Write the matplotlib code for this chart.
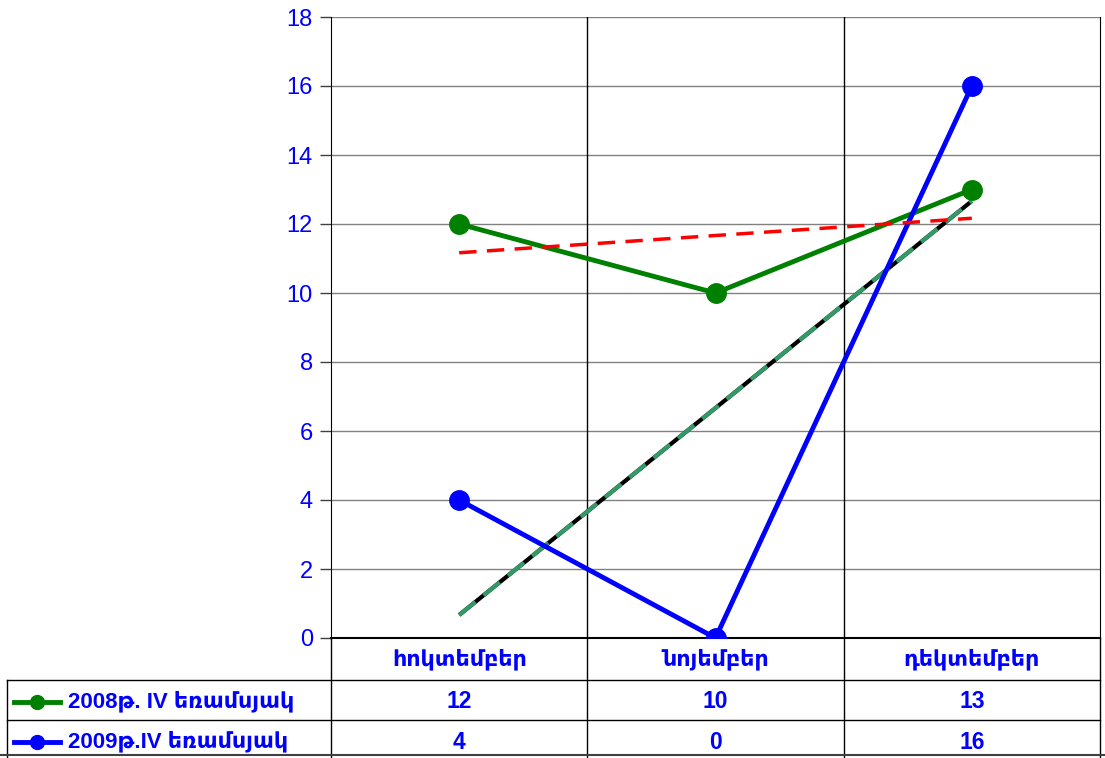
import numpy as np
import matplotlib.pyplot as plt
import matplotlib.transforms as mtransforms

plt.rcParams['font.family'] = ['Liberation Sans', 'DejaVu Sans']

months = ['հոկտեմբեր', 'նոյեմբեր', 'դեկտեմբեր']
series_names = ['2008թ. IV եռամսյակ', '2009թ.IV եռամսյակ']
vals_2008 = [12, 10, 13]
vals_2009 = [4, 0, 16]
y_ticks = list(range(0, 19, 2))

BLUE = '#0000FF'
GREEN = '#008000'

fig = plt.figure(figsize=(11.05, 7.58), dpi=100)
ax = fig.add_axes([331 / 1105, 1 - 638 / 758, 769 / 1105, 621 / 758])

x = np.arange(1, len(months) + 1)

# trend lines (linear fit of each series)
k1, b1 = np.polyfit(x, vals_2008, 1)
k2, b2 = np.polyfit(x, vals_2009, 1)
ax.plot(x, k2 * x + b2, color='black', lw=3, solid_capstyle='butt', zorder=3)
ax.plot(x, k2 * x + b2, color='#339966', lw=3, ls=(0, (5, 2.5)), zorder=3)

ax.plot(x, vals_2008, color=GREEN, lw=3.5, marker='o', ms=14, zorder=4)
ax.plot(x, vals_2009, color=BLUE, lw=3.5, marker='o', ms=14, zorder=4)
ax.plot(x, k1 * x + b1, color='#FF0000', lw=2.5, ls=(0, (5, 3)), zorder=5)

ax.set_xlim(0.5, len(months) + 0.5)
ax.set_ylim(0, 18)
ax.set_yticks(y_ticks)
ax.tick_params(axis='y', colors='#404040', labelcolor=BLUE, labelsize=17,
               length=8, width=1, direction='out', pad=5)
ax.set_xticks([])
ax.grid(False)
for y in y_ticks[1:]:
    ax.axhline(y, color='#808080', lw=1, zorder=1)
for xb in np.arange(1.5, len(months), 1.0):
    ax.axvline(xb, color='black', lw=1, zorder=1)
ax.spines['top'].set_visible(False)
ax.spines['left'].set_color('black')
ax.spines['bottom'].set_color('black')
ax.spines['right'].set_color('black')
ax.spines['bottom'].set_linewidth(1.5)

# data table under the plot
tr = mtransforms.blended_transform_factory(ax.transData, ax.transAxes)
tra = ax.transAxes
row_lines = [-0.0676, -0.132]
row_text = [-0.0354, -0.103, -0.1675]
for xb in np.arange(0.5, len(months) + 1, 1.0):
    ax.plot([xb, xb], [0, -0.2], color='black', lw=1, transform=tr, clip_on=False)
for yl in row_lines:
    ax.plot([-0.421, 1.0], [yl, yl], color='black', lw=1, transform=tra, clip_on=False)
ax.plot([-0.421, -0.421], [row_lines[0], -0.2], color='black', lw=1,
        transform=tra, clip_on=False)
ax.plot([-0.5, 1.1], [-0.188, -0.188], color='#404040', lw=1.5,
        transform=tra, clip_on=False)

for xi, m in zip(x, months):
    ax.text(xi, row_text[0], m, transform=tr, ha='center', va='center',
            color=BLUE, fontsize=16, fontweight='bold')
for row, (name, vals, col) in enumerate(zip(series_names, [vals_2008, vals_2009],
                                            [GREEN, BLUE])):
    yt = row_text[row + 1]
    ax.plot([-0.412, -0.352], [yt, yt], color=col, lw=3.5, transform=tra, clip_on=False)
    ax.plot([-0.382], [yt], marker='o', ms=10, color=col, transform=tra, clip_on=False)
    ax.text(-0.342, yt, name, transform=tra, ha='left', va='center',
            color=BLUE, fontsize=16, fontweight='bold')
    for xi, v in zip(x, vals):
        ax.text(xi, yt, str(v), transform=tr, ha='center', va='center',
                color=BLUE, fontsize=16.5, fontweight='bold')

fig.savefig('out.png', dpi=100)
